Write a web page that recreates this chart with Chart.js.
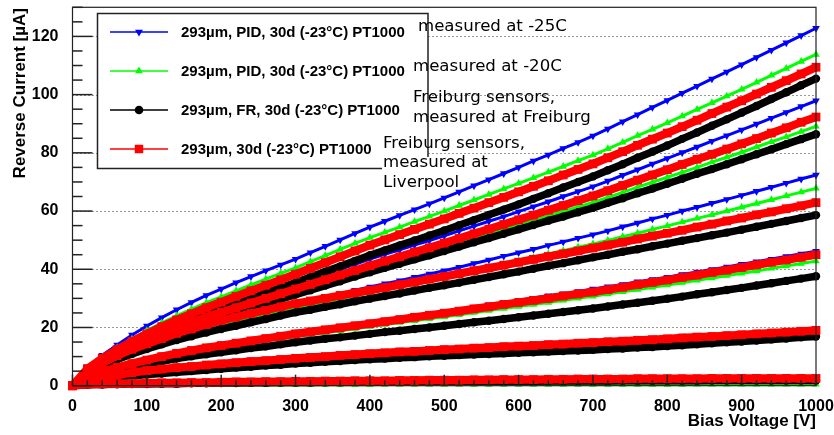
<!DOCTYPE html>
<html>
<head>
<meta charset="utf-8">
<script src="https://cdn.jsdelivr.net/npm/chart.js@4.4.1/dist/chart.umd.min.js"></script>
<style>
  html, body { margin: 0; padding: 0; background: #fff; }
  #wrap { width: 834px; height: 435px; position: relative; }
</style>
</head>
<body>
<div id="wrap"><canvas id="ivChart"></canvas></div>
<script>
// bias voltage steps [V]
const volts = [0,20,40,60,80,100,120,140,160,180,200,220,240,260,280,300,320,340,360,380,400,
  420,440,460,480,500,520,540,560,580,600,620,640,660,680,700,720,740,760,780,800,
  820,840,860,880,900,920,940,960,980,1000];

// reverse current [uA], one array per sensor
// blue: PID, measured at -25C
const blueA = [0,6.5,10.5,14,17.4,20.5, 23.4,26.1,28.6,31,33.2, 35.4,37.5,39.5,41.5,43.5, 45.7,47.9,50.1,52.3,54.5, 56.5,58.5,60.5,62.5,64.5, 66.6,68.7,70.8,72.9,75, 77.2,79.3,81.5,83.6,85.8, 88.2,90.7,93.1,95.6,98, 100.5,102.9,105.4,107.8,110.3, 112.8,115.3,117.8,120.3,122.8];
const blueB = [0,5.2,8.4,11.2,13.9,16.3, 18.6,20.8,22.8,24.6,26.4, 28.1,29.7,31.4,33,34.7, 36.5,38.2,40,41.7,43.5, 45.1,46.7,48.3,49.9,51.5, 53.2,54.8,56.5,58.1,59.8, 61.5,63.2,65,66.7,68.4, 70.3,72.3,74.2,76.2,78.1, 80.1,82,84,85.9,87.9, 89.9,91.9,93.9,95.9,97.9];
const blueC = [0,4.5,7.2,9.5,11.6,13.5, 15.4,17.2,18.8,20.4,21.8, 23.1,24.4,25.7,27,28.2, 29.3,30.5,31.6,32.8,33.9, 35,36.1,37.3,38.4,39.5, 40.7,42,43.2,44.5,45.7, 46.9,48.2,49.4,50.7,51.9, 53.2,54.6,55.9,57.3,58.6, 60,61.3,62.7,64,65.4, 66.8,68.2,69.6,71,72.4];
const blueD = [0,3,4.9,6.4,7.8,9.1, 10.3,11.4,12.4,13.3,14.2, 15,15.8,16.6,17.4,18.2, 18.9,19.6,20.4,21.1,21.8, 22.5,23.3,24,24.8,25.5, 26.3,27,27.8,28.5,29.3, 30.1,30.9,31.6,32.4,33.2, 34,34.8,35.7,36.5,37.3, 38.2,39.1,39.9,40.8,41.7, 42.6,43.5,44.4,45.3,46.2];

// green: PID, measured at -20C
const greenA = [0,6,9.8,13,16,18.9, 21.6,24,26.3,28.5,30.5, 32.6,34.6,36.6,38.6,40.5, 42.6,44.7,46.8,48.9,50.9, 52.7,54.5,56.4,58.2,60, 61.9,63.8,65.7,67.6,69.5, 71.4,73.4,75.3,77.3,79.2, 81.4,83.6,85.9,88.1,90.3, 92.6,94.9,97.2,99.5,101.8, 104.2,106.6,109,111.4,113.8];
const greenB = [0,4.8,7.9,10.5,12.9,15.1, 17.2,19.2,20.9,22.6,24.1, 25.7,27.3,29,30.6,32.2, 33.8,35.3,36.9,38.4,40, 41.5,43,44.5,46,47.5, 49,50.6,52.1,53.7,55.2, 56.8,58.3,59.9,61.4,63, 64.7,66.4,68.2,69.9,71.6, 73.3,75,76.8,78.5,80.2, 82,83.8,85.5,87.3,89.1];
const greenC = [0,4.2,6.8,9,11,12.8, 14.6,16.3,17.8,19.3,20.6, 21.8,23,24.2,25.4,26.6, 27.7,28.8,29.8,30.9,32, 33,34.1,35.1,36.2,37.2, 38.4,39.5,40.7,41.8,43, 44.1,45.3,46.4,47.6,48.7, 49.9,51.2,52.4,53.7,54.9, 56.2,57.5,58.7,60,61.3, 62.6,63.9,65.2,66.5,67.8];
const greenD = [0,2.8,4.5,5.9,7.2,8.4, 9.5,10.5,11.4,12.3,13.1, 13.9,14.6,15.4,16.1,16.9, 17.6,18.3,18.9,19.6,20.3, 21,21.7,22.3,23,23.7, 24.4,25.1,25.8,26.5,27.2, 27.9,28.6,29.3,30,30.7, 31.5,32.3,33,33.8,34.6, 35.4,36.2,37,37.8,38.6, 39.4,40.3,41.1,42,42.8];
const greenF = [0,0.1,0.1,0.2,0.2,0.2, 0.2,0.2,0.3,0.3,0.3, 0.3,0.3,0.3,0.3,0.3, 0.3,0.3,0.3,0.3,0.3, 0.4,0.4,0.4,0.4,0.4, 0.4,0.4,0.4,0.4,0.4, 0.4,0.4,0.4,0.4,0.4, 0.4,0.4,0.4,0.4,0.4, 0.4,0.5,0.5,0.5,0.5, 0.5,0.5,0.5,0.5,0.5];

// black: FR, measured at Freiburg
const blackA = [0,5.2,8.5,11.3,13.9,16.2, 18.5,20.7,22.7,24.6,26.4, 28.2,30,31.8,33.6,35.4, 37.3,39.2,41,42.9,44.8, 46.5,48.2,49.9,51.6,53.3, 55.1,56.9,58.7,60.5,62.3, 64.2,66.1,68.1,70,71.9, 74,76.1,78.3,80.4,82.5, 84.8,87,89.3,91.5,93.8, 96.1,98.5,100.8,103.2,105.5];
const blackB = [0,4.6,7.6,10.1,12.4,14.6, 16.7,18.6,20.3,22,23.5, 25.1,26.6,28.2,29.7,31.3, 32.8,34.4,35.9,37.5,39, 40.5,41.9,43.4,44.8,46.3, 47.8,49.3,50.7,52.2,53.7, 55.2,56.7,58.1,59.6,61.1, 62.8,64.4,66.1,67.7,69.4, 71.1,72.8,74.4,76.1,77.8, 79.5,81.2,83,84.7,86.4];
const blackC = [0,4.2,6.8,9,10.9,12.6, 14.2,15.7,17,18.3,19.5, 20.6,21.8,22.9,24.1,25.2, 26.1,27.1,28,29,29.9, 30.8,31.7,32.7,33.6,34.5, 35.4,36.4,37.3,38.3,39.2, 40.2,41.2,42.1,43.1,44.1, 45,46,46.9,47.9,48.8, 49.8,50.7,51.7,52.6,53.6, 54.6,55.6,56.6,57.6,58.6];
const blackD = [0,2.5,4,5.2,6.4,7.4, 8.4,9.3,10.1,10.8,11.5, 12.2,12.9,13.5,14.2,14.9, 15.5,16.1,16.6,17.2,17.8, 18.4,18.9,19.5,20,20.6, 21.2,21.8,22.3,22.9,23.5, 24.1,24.7,25.3,25.9,26.5, 27.2,27.9,28.5,29.2,29.9, 30.6,31.4,32.1,32.9,33.6, 34.4,35.2,36,36.8,37.6];
const blackE = [0,1.3,2.1,2.8,3.3,3.8, 4.2,4.6,5,5.4,5.8, 6.2,6.5,6.9,7.2,7.6, 7.9,8.2,8.5,8.8,9.1, 9.3,9.6,9.8,10.1,10.3, 10.5,10.7,10.9,11.1,11.3, 11.5,11.7,11.9,12.1,12.3, 12.6,12.8,13.1,13.3,13.6, 13.9,14.2,14.6,14.9,15.2, 15.5,15.9,16.2,16.6,16.9];
const blackF = [0,0.3,0.4,0.5,0.6,0.6, 0.7,0.7,0.8,0.8,0.9, 0.9,1,1,1.1,1.1, 1.1,1.2,1.2,1.3,1.3, 1.3,1.3,1.4,1.4,1.4, 1.4,1.5,1.5,1.5,1.5, 1.5,1.6,1.6,1.6,1.6, 1.6,1.7,1.7,1.7,1.7, 1.7,1.7,1.8,1.8,1.8, 1.8,1.8,1.8,1.8,1.8];

// red: Freiburg sensors measured at Liverpool
const redA = [0,5.8,9.4,12.4,15.2,17.8, 20.3,22.6,24.7,26.8,28.7, 30.7,32.6,34.5,36.4,38.3, 40.3,42.3,44.3,46.3,48.3, 50.1,51.9,53.7,55.5,57.3, 59.2,61,62.9,64.7,66.6, 68.5,70.4,72.4,74.3,76.2, 78.3,80.4,82.6,84.7,86.8, 89,91.2,93.5,95.7,97.9, 100.2,102.5,104.8,107.1,109.4];
const redB = [0,5,8.2,10.9,13.4,15.7, 17.9,20,21.8,23.6,25.2, 26.8,28.4,30,31.6,33.2, 34.8,36.4,38,39.6,41.2, 42.8,44.3,45.9,47.4,49, 50.6,52.2,53.8,55.4,57, 58.6,60.3,61.9,63.6,65.2, 67,68.8,70.6,72.4,74.2, 76,77.8,79.5,81.3,83.1, 84.9,86.8,88.6,90.5,92.3];
const redC = [0,4.8,7.8,10.3,12.5,14.4, 16.2,18,19.5,21,22.4, 23.6,24.8,25.9,27.1,28.2, 29.1,30,31,31.9,32.8, 33.7,34.7,35.6,36.6,37.5, 38.5,39.5,40.4,41.4,42.4, 43.4,44.4,45.3,46.3,47.3, 48.3,49.3,50.4,51.4,52.4, 53.4,54.5,55.5,56.6,57.6, 58.7,59.7,60.8,61.8,62.9];
const redD = [0,3,4.8,6.3,7.6,8.8, 10,11.1,12.1,13,13.8, 14.6,15.4,16.2,17,17.8, 18.5,19.2,19.9,20.6,21.3, 22,22.7,23.5,24.2,24.9, 25.6,26.4,27.1,27.9,28.6, 29.3,30,30.8,31.5,32.2, 33,33.8,34.7,35.5,36.3, 37.2,38,38.9,39.7,40.6, 41.5,42.4,43.2,44.1,45];
const redE = [0,1.8,2.8,3.7,4.5,5.2, 5.7,6.2,6.6,7.1,7.5, 7.9,8.3,8.6,9,9.4, 9.7,10,10.4,10.7,11, 11.3,11.6,11.8,12.1,12.4, 12.6,12.9,13.1,13.4,13.6, 13.8,14.1,14.3,14.6,14.8, 15.1,15.3,15.6,15.8,16.1, 16.4,16.7,16.9,17.2,17.5, 17.8,18.1,18.4,18.7,19];
const redF = [0,0.5,0.6,0.7,0.8,0.9, 1,1,1.1,1.1,1.2, 1.3,1.3,1.4,1.4,1.5, 1.5,1.6,1.6,1.7,1.7, 1.7,1.8,1.8,1.9,1.9, 1.9,2,2,2.1,2.1, 2.1,2.2,2.2,2.3,2.3, 2.3,2.3,2.4,2.4,2.4, 2.4,2.4,2.5,2.5,2.5, 2.5,2.5,2.5,2.5,2.5];

const seriesNames = [
  '293\u00b5m, PID, 30d (-23\u00b0C) PT1000',
  '293\u00b5m, PID, 30d (-23\u00b0C) PT1000',
  '293\u00b5m, FR, 30d (-23\u00b0C) PT1000',
  '293\u00b5m, 30d (-23\u00b0C) PT1000'
];
const noteBlocks = [
  ['measured at -25C'],
  ['measured at -20C'],
  ['Freiburg sensors,', 'measured at Freiburg'],
  ['Freiburg sensors,', 'measured at', 'Liverpool']
];
const xTitle = 'Bias Voltage [V]';
const yTitle = 'Reverse Current [\u00b5A]';

const BOLD = '"Liberation Sans", Arial, Helvetica, sans-serif';
const BLUE = '#0000ff', GREEN = '#00ff00', BLACK = '#000000', RED = '#ff0000';

// r / lw: marker radius and band width in the plot; lr: marker radius in the legend
const styles = [
  { color: BLUE,  point: 'triangle', rot: 180, r: 4.4, lw: 3,   lr: 4.6, order: 3 },
  { color: GREEN, point: 'triangle', rot: 0,   r: 4.4, lw: 3,   lr: 4.6, order: 2 },
  { color: BLACK, point: 'circle',   rot: 0,   r: 4.2, lw: 7.5, lr: 4.3, order: 1 },
  { color: RED,   point: 'rect',     rot: 0,   r: 6.2, lw: 8.2, lr: 6,   order: 0 }
];

function curve(values, s) {
  return {
    data: volts.map((v, i) => ({ x: v, y: values[i] })),
    borderColor: s.color,
    backgroundColor: s.color,
    borderWidth: s.lw,
    pointStyle: s.point,
    pointRotation: s.rot,
    pointRadius: s.r,
    pointHoverRadius: s.r,
    pointBackgroundColor: s.color,
    pointBorderColor: s.color,
    pointBorderWidth: 0,
    tension: 0,
    order: s.order,
    clip: false
  };
}

const datasets = [
  ...[blueA, blueB, blueC, blueD].map(d => curve(d, styles[0])),
  ...[greenA, greenB, greenC, greenD, greenF].map(d => curve(d, styles[1])),
  ...[blackA, blackB, blackC, blackD, blackE, blackF].map(d => curve(d, styles[2])),
  ...[redA, redB, redC, redD, redE, redF].map(d => curve(d, styles[3]))
];

// ROOT-like frame: dotted grid, inward ticks, boxed legend, text notes
const rootLook = {
  id: 'rootLook',
  beforeDatasetsDraw(chart) {
    const { ctx, chartArea: a, scales: { y } } = chart;
    ctx.save();
    ctx.strokeStyle = '#333';
    ctx.lineWidth = 1;
    ctx.setLineDash([1, 3]);
    y.ticks.forEach(t => {
      if (t.value === 0) return;
      const py = Math.round(y.getPixelForValue(t.value)) + 0.5;
      ctx.beginPath(); ctx.moveTo(a.left, py); ctx.lineTo(a.right, py); ctx.stroke();
    });
    ctx.restore();
  },
  afterDatasetsDraw(chart) {
    const { ctx, chartArea: a, scales: { x, y } } = chart;
    ctx.save();
    // frame
    ctx.strokeStyle = '#222';
    ctx.lineWidth = 1.2;
    ctx.strokeRect(a.left, a.top, a.right - a.left, a.bottom - a.top);
    // ticks
    ctx.lineWidth = 1.5;
    for (let v = 0; v <= y.max; v += 5) {
      const py = y.getPixelForValue(v);
      const len = v % 20 === 0 ? 20 : 10;
      ctx.beginPath(); ctx.moveTo(a.left, py); ctx.lineTo(a.left + len, py); ctx.stroke();
    }
    for (let v = 0; v <= x.max; v += 20) {
      const px = x.getPixelForValue(v);
      const len = v % 100 === 0 ? 11 : 5.5;
      ctx.beginPath(); ctx.moveTo(px, a.bottom); ctx.lineTo(px, a.bottom - len); ctx.stroke();
    }

    // legend box
    ctx.fillStyle = '#fff';
    ctx.fillRect(97, 13, 331, 156);
    ctx.strokeStyle = '#222';
    ctx.lineWidth = 1.5;
    ctx.beginPath();
    ctx.moveTo(382, 168.5); ctx.lineTo(97.5, 168.5); ctx.lineTo(97.5, 13.5);
    ctx.lineTo(428, 13.5); ctx.lineTo(428, 157);
    ctx.stroke();
    const rowY = [32, 71, 110, 149];
    seriesNames.forEach((name, i) => {
      const s = styles[i];
      ctx.strokeStyle = s.color;
      ctx.lineWidth = 1.5;
      ctx.beginPath(); ctx.moveTo(110, rowY[i]); ctx.lineTo(168, rowY[i]); ctx.stroke();
      ctx.fillStyle = s.color;
      Chart.helpers.drawPoint(ctx, {
        pointStyle: s.point, rotation: s.rot, borderWidth: 0, radius: s.lr
      }, 139, rowY[i]);
      ctx.fillStyle = '#000';
      ctx.font = 'bold 15px ' + BOLD;
      ctx.textAlign = 'left';
      ctx.textBaseline = 'middle';
      ctx.fillText(name, 181, rowY[i] + 0.5);
    });

    // notes
    ctx.font = '16.6px "DejaVu Sans", sans-serif';
    ctx.fillStyle = '#000';
    const noteAt = [[418, [27]], [413, [67]], [413, [98, 117.5]], [383, [143.5, 163, 182.5]]];
    noteBlocks.forEach((lines, i) => {
      lines.forEach((txt, j) => ctx.fillText(txt, noteAt[i][0], noteAt[i][1][j]));
    });
    ctx.restore();
  },
  afterDraw(chart) {
    const { ctx, chartArea: a } = chart;
    ctx.save();
    ctx.fillStyle = '#000';
    ctx.font = 'bold 17px ' + BOLD;
    ctx.textBaseline = 'middle';
    ctx.textAlign = 'right';
    ctx.fillText(xTitle, a.right, 421);
    ctx.translate(20, 8);
    ctx.rotate(-Math.PI / 2);
    ctx.fillText(yTitle, 0, 0);
    ctx.restore();
  }
};

const tickFont = { family: BOLD, weight: 'bold', size: 16 };

new Chart(document.getElementById('ivChart'), {
  type: 'line',
  data: { datasets },
  options: {
    responsive: true,
    maintainAspectRatio: false,
    animation: false,
    events: [],
    layout: { padding: { top: 7.3, right: 18, bottom: 0, left: 0 } },
    plugins: { legend: { display: false }, tooltip: { enabled: false } },
    scales: {
      x: {
        type: 'linear', min: 0, max: 1000,
        grid: { display: false }, border: { display: false },
        ticks: { stepSize: 100, font: tickFont, color: '#000', padding: 3, maxRotation: 0, autoSkip: false,
                 callback: v => String(v) },
        afterFit: s => { s.height = 49.3; s.paddingLeft = 0; s.paddingRight = 0; }
      },
      y: {
        min: 0, max: 130,
        grid: { display: false }, border: { display: false },
        ticks: { stepSize: 20, includeBounds: false, font: tickFont, color: '#000', padding: 6,
                 callback: v => String(v) },
        afterFit: s => { s.width = 72.5; s.paddingTop = 0; s.paddingBottom = 0; }
      }
    }
  },
  plugins: [rootLook]
});
</script>
</body>
</html>
